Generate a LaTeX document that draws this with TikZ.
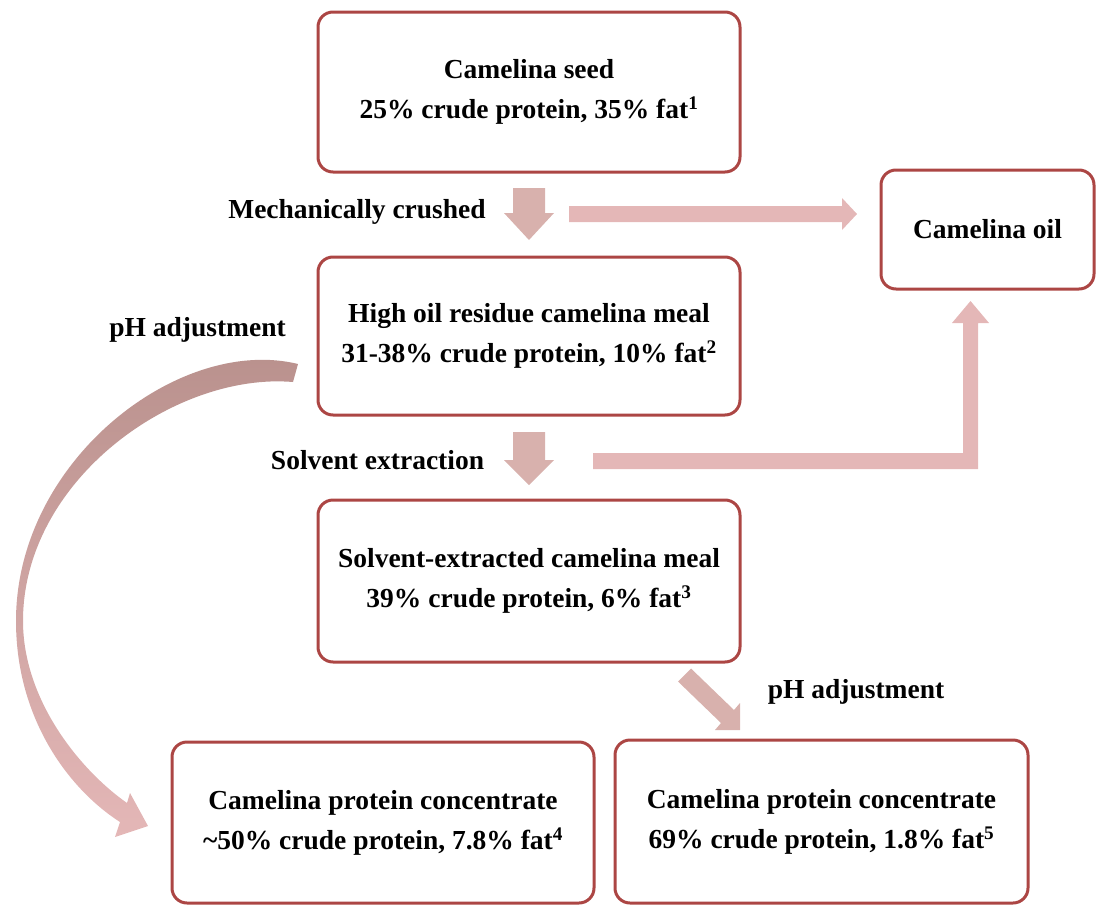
\documentclass[tikz,border=0pt]{standalone}
\usepackage{fontspec}
\setmainfont{Liberation Serif}
\definecolor{boxred}{RGB}{172,70,68}
\definecolor{arrA}{RGB}{216,177,173}
\definecolor{arrB}{RGB}{228,183,183}
\definecolor{curvetop}{RGB}{184,144,140}
\begin{document}
\begin{tikzpicture}[x=1pt,y=-1pt,
  font=\fontsize{27.5}{40}\selectfont\bfseries,
  box/.style={draw=boxred, line width=3pt, rounded corners=15pt, fill=white, align=center, inner sep=0pt},
  lbl/.style={inner sep=0pt},
  darrow/.style={fill=arrA},
  parrow/.style={fill=arrB}]
\useasboundingbox (0,0) rectangle (1096,905);

% boxes
\node[box, minimum width=422pt, minimum height=160pt] (seed) at (529,92)
  {Camelina seed\\25\% crude protein, 35\% fat\textsuperscript{1}};
\node[box, minimum width=213pt, minimum height=119pt] (oil) at (987.5,229.5)
  {Camelina oil};
\node[box, minimum width=422pt, minimum height=158pt] (high) at (529,336)
  {High oil residue camelina meal\\31-38\% crude protein, 10\% fat\textsuperscript{2}};
\node[box, minimum width=422pt, minimum height=162pt] (solv) at (529,581)
  {Solvent-extracted camelina meal\\39\% crude protein, 6\% fat\textsuperscript{3}};
\node[box, minimum width=422pt, minimum height=161pt] (cpcl) at (383,822.5)
  {Camelina protein concentrate\\\textasciitilde50\% crude protein, 7.8\% fat\textsuperscript{4}};
\node[box, minimum width=413pt, minimum height=163pt] (cpcr) at (821.5,821.5)
  {Camelina protein concentrate\\69\% crude protein, 1.8\% fat\textsuperscript{5}};

% labels
\node[lbl] (l1) at (357,212) {Mechanically crushed};
\node[lbl] (l2) at (197.5,330) {pH adjustment};
\node[lbl] (l3) at (377.5,460) {Solvent extraction};
\node[lbl] (l4) at (856,692) {pH adjustment};

% down arrows
\fill[darrow] (513,188) -- (545,188) -- (545,213) -- (554,213) -- (529,240) -- (504,213) -- (513,213) -- cycle;
\fill[darrow] (513,432) -- (545,432) -- (545,460) -- (554,460) -- (529,485) -- (504,460) -- (513,460) -- cycle;

% right arrow to oil
\fill[parrow] (569,206) -- (842,206) -- (842,198) -- (857,214) -- (842,230) -- (842,222) -- (569,222) -- cycle;

% elbow arrow to oil
\fill[parrow] (593,453) -- (963,453) -- (963,323) -- (952,323) -- (970.5,301) -- (989,323) -- (978,323) -- (978,469) -- (593,469) -- cycle;

% diagonal arrow
\fill[darrow] (678,681.5) -- (691,668.5) -- (734,710) -- (740,703) -- (740,730) -- (715,730) -- (721,723) -- cycle;

% curved arrow
\shade[top color=curvetop, middle color=arrB!85!curvetop, bottom color=arrB]
  (298,364) .. controls (180,335) and (16,460) .. (16,621)
  .. controls (16,720) and (70,790) .. (120,822)
  -- (115,837) -- (148,826) -- (130,793) -- (127,803)
  .. controls (80,770) and (23,700) .. (23,621)
  .. controls (23,480) and (175,372) .. (293,382) -- cycle;
\end{tikzpicture}
\end{document}
